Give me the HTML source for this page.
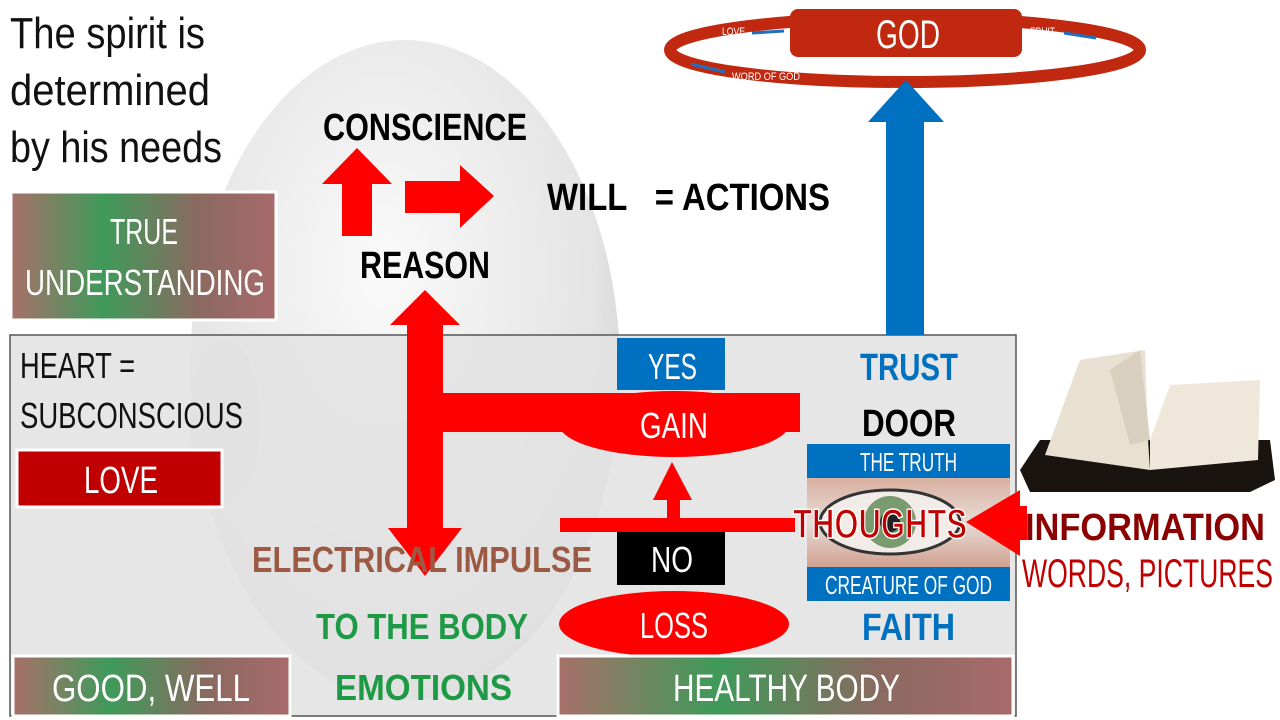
<!DOCTYPE html>
<html><head><meta charset="utf-8"><style>
body{margin:0;width:1280px;height:720px;overflow:hidden;background:#fff}
svg{position:absolute;left:0;top:0}
text{font-family:"Liberation Sans",sans-serif}
</style></head><body>
<svg width="1280" height="720" viewBox="0 0 1280 720">
<defs>
<radialGradient id="head" cx="0.45" cy="0.35" r="0.7">
<stop offset="0" stop-color="#fafafa"/><stop offset="0.7" stop-color="#e4e4e4"/><stop offset="1" stop-color="#c8c8c8"/></radialGradient>
<linearGradient id="rg" x1="0" x2="1">
<stop offset="0" stop-color="#a8706a"/><stop offset="0.35" stop-color="#3f9a5a"/><stop offset="0.7" stop-color="#8a6a60"/><stop offset="1" stop-color="#a86a6a"/></linearGradient>
<linearGradient id="eye" x1="0" x2="0" y1="0" y2="1">
<stop offset="0" stop-color="#d8b0a0"/><stop offset="0.5" stop-color="#e8dcd6"/><stop offset="1" stop-color="#d0a090"/></linearGradient>
</defs>
<ellipse cx="405" cy="370" rx="215" ry="330" fill="url(#head)"/>
<ellipse cx="225" cy="420" rx="35" ry="80" fill="#d8d8d8"/>
<g font-size="44" fill="#111">
<text x="10" y="48" textLength="195" lengthAdjust="spacingAndGlyphs">The spirit is</text>
<text x="10" y="105" textLength="200" lengthAdjust="spacingAndGlyphs">determined</text>
<text x="10" y="162" textLength="212" lengthAdjust="spacingAndGlyphs">by his needs</text></g>
<rect x="11" y="192" width="265" height="128" fill="url(#rg)" stroke="#fff" stroke-width="3"/>
<g fill="#fff" font-size="36"><text x="110" y="244" textLength="68" lengthAdjust="spacingAndGlyphs">TRUE</text><text x="25" y="295" textLength="240" lengthAdjust="spacingAndGlyphs">UNDERSTANDING</text></g>
<rect x="10" y="335" width="1006" height="381" fill="#e2e2e2" fill-opacity="0.88" stroke="#555" stroke-width="1.5"/>
<g font-size="36" fill="#111"><text x="20" y="378" textLength="115" lengthAdjust="spacingAndGlyphs">HEART =</text><text x="20" y="428" textLength="223" lengthAdjust="spacingAndGlyphs">SUBCONSCIOUS</text></g>
<rect x="17" y="450" width="205" height="57" fill="#c00000" stroke="#fff" stroke-width="3"/>
<text x="84" y="493" fill="#fff" font-size="38" textLength="74" lengthAdjust="spacingAndGlyphs">LOVE</text>
<!-- God ring -->
<ellipse cx="905" cy="50" rx="235" ry="32" fill="none" stroke="#c0280f" stroke-width="12"/>
<rect x="790" y="9" width="232" height="48" rx="8" fill="#c0280f"/>
<text x="876" y="48" fill="#fff" font-size="40" textLength="64" lengthAdjust="spacingAndGlyphs">GOD</text>
<g font-size="11" fill="#fff"><text x="722" y="35" textLength="23" lengthAdjust="spacingAndGlyphs">LOVE</text><text x="1030" y="35" textLength="25" lengthAdjust="spacingAndGlyphs">FRUIT</text><text x="732" y="80" textLength="68" lengthAdjust="spacingAndGlyphs">WORD OF GOD</text></g>
<g stroke="#1f6fc0" stroke-width="3"><line x1="752" y1="33" x2="784" y2="31"/><line x1="1064" y1="33" x2="1096" y2="38"/><line x1="691" y1="64" x2="725" y2="72"/></g>
<!-- blue arrow -->
<rect x="886" y="120" width="38" height="215" fill="#0070c0"/>
<polygon points="868,122 944,122 906,80" fill="#0070c0"/>
<!-- head labels -->
<g font-weight="bold" fill="#000" font-size="38"><text x="323" y="140" textLength="204" lengthAdjust="spacingAndGlyphs">CONSCIENCE</text><text x="360" y="278" textLength="130" lengthAdjust="spacingAndGlyphs">REASON</text><text x="547" y="210" textLength="283" lengthAdjust="spacingAndGlyphs">WILL&#160;&#160; = ACTIONS</text></g>
<!-- red arrows -->
<g fill="#ff0000">
<rect x="342" y="183" width="30" height="53"/><polygon points="322,184 392,184 357,148"/>
<rect x="405" y="181" width="57" height="32"/><polygon points="460,165 460,228 494,196"/>
<polygon points="390,325 460,325 425,290"/>
<rect x="407" y="323" width="36" height="210"/>
<polygon points="388,528 462,528 425,576"/>
<rect x="407" y="393" width="393" height="39"/>
<ellipse cx="674" cy="424" rx="115" ry="33"/>
<ellipse cx="674" cy="624" rx="115" ry="33"/>
<rect x="667" y="498" width="13" height="24"/><polygon points="653,500 692,500 672,462"/>
<rect x="560" y="518" width="235" height="14"/>
</g>
<rect x="617" y="338" width="108" height="52" fill="#0070c0"/>
<text x="648" y="379" fill="#fff" font-size="36" textLength="49" lengthAdjust="spacingAndGlyphs">YES</text>
<text x="640" y="438" fill="#fff" font-size="36" textLength="68" lengthAdjust="spacingAndGlyphs">GAIN</text>
<rect x="617" y="532" width="108" height="53" fill="#000"/>
<text x="651" y="572" fill="#fff" font-size="36" textLength="42" lengthAdjust="spacingAndGlyphs">NO</text>
<text x="640" y="638" fill="#fff" font-size="36" textLength="68" lengthAdjust="spacingAndGlyphs">LOSS</text>
<g font-weight="bold" font-size="36"><text x="252" y="572" fill="#9c5a44" textLength="340" lengthAdjust="spacingAndGlyphs">ELECTRICAL IMPULSE</text>
<text x="316" y="639" fill="#1e9a46" textLength="212" lengthAdjust="spacingAndGlyphs">TO THE BODY</text><text x="335" y="700" fill="#1e9a46" textLength="177" lengthAdjust="spacingAndGlyphs">EMOTIONS</text></g>
<rect x="13" y="656" width="277" height="60" fill="url(#rg)" stroke="#fff" stroke-width="3"/>
<text x="52" y="701" fill="#fff" font-size="38" textLength="198" lengthAdjust="spacingAndGlyphs">GOOD, WELL</text>
<rect x="558" y="656" width="455" height="60" fill="url(#rg)" stroke="#fff" stroke-width="3"/>
<text x="673" y="701" fill="#fff" font-size="38" textLength="227" lengthAdjust="spacingAndGlyphs">HEALTHY BODY</text>
<!-- right column -->
<g font-weight="bold" font-size="38"><text x="860" y="380" fill="#0070c0" textLength="98" lengthAdjust="spacingAndGlyphs">TRUST</text><text x="862" y="436" fill="#000" textLength="94" lengthAdjust="spacingAndGlyphs">DOOR</text><text x="862" y="640" fill="#0070c0" textLength="93" lengthAdjust="spacingAndGlyphs">FAITH</text></g>
<rect x="807" y="478" width="203" height="90" fill="url(#eye)"/>
<ellipse cx="890" cy="522" rx="70" ry="32" fill="#f2ece8" stroke="#333" stroke-width="3"/>
<circle cx="890" cy="522" r="26" fill="#7a9a70"/><circle cx="890" cy="522" r="10" fill="#222"/>
<rect x="807" y="444" width="203" height="34" fill="#0070c0"/>
<text x="860" y="471" fill="#fff" font-size="26" textLength="97" lengthAdjust="spacingAndGlyphs">THE TRUTH</text>
<rect x="807" y="567" width="203" height="34" fill="#0070c0"/>
<text x="825" y="594" fill="#fff" font-size="26" textLength="167" lengthAdjust="spacingAndGlyphs">CREATURE OF GOD</text>
<g fill="#ff0000"><rect x="1015" y="506" width="12" height="34"/><polygon points="1020,490 1020,556 966,522"/></g>
<text x="793" y="538" fill="#c00000" stroke="#fff" stroke-width="1.5" font-size="42" font-weight="bold" textLength="174" lengthAdjust="spacingAndGlyphs">THOUGHTS</text>
<text x="1025" y="540" fill="#8b0000" font-size="38" font-weight="bold" textLength="240" lengthAdjust="spacingAndGlyphs">INFORMATION</text>
<text x="1022" y="587" fill="#c00000" font-size="40" textLength="251" lengthAdjust="spacingAndGlyphs">WORDS, PICTURES</text>
<!-- bible -->
<polygon points="1020,470 1040,440 1270,440 1275,480 1250,492 1030,492" fill="#1a1410"/>
<polygon points="1045,455 1080,360 1145,350 1148,440 1150,470" fill="#e8e0d0"/>
<polygon points="1150,470 1150,440 1170,385 1260,380 1258,460" fill="#efe8da"/>
<polygon points="1110,370 1140,350 1150,440 1130,445" fill="#d8cfbe"/>
</svg>
</body></html>
